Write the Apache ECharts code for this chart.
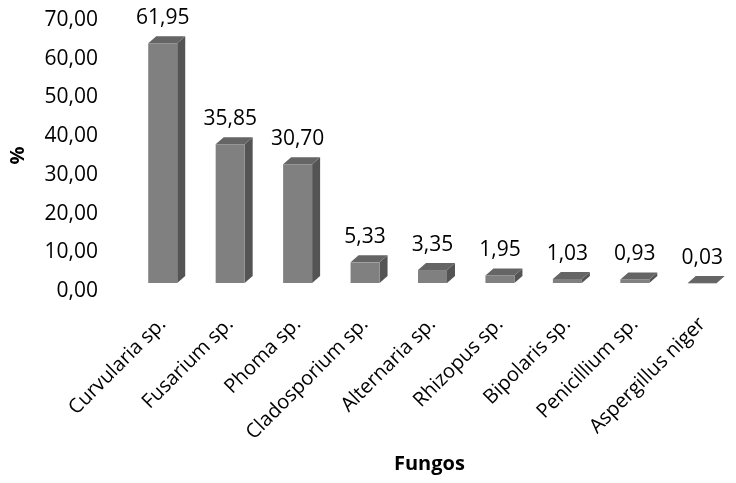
<!DOCTYPE html>
<html>
<head>
<meta charset="utf-8">
<script src="https://cdn.jsdelivr.net/npm/echarts@6/dist/echarts.min.js"></script>
<style>
  html, body { margin: 0; padding: 0; background: #fff; }
  #chart { width: 736px; height: 483px; }
</style>
</head>
<body>
<div id="chart"></div>
<script>
  var fungos = ['Curvularia sp.', 'Fusarium sp.', 'Phoma sp.', 'Cladosporium sp.', 'Alternaria sp.',
    'Rhizopus sp.', 'Bipolaris sp.', 'Penicillium sp.', 'Aspergillus niger']
  var percent = [61.95, 35.85, 30.70, 5.33, 3.35, 1.95, 1.03, 0.93, 0.03]

  var fmt = function (v) { return Number(v).toFixed(2).replace('.', ',') }
  var font = 'Open Sans'

  var myChart = echarts.init(document.getElementById('chart'))

  var option = {
    animation: false,
    grid: { left: 128, top: 20, width: 619, height: 271 },
    xAxis: {
      type: 'category',
      data: fungos,
      axisLine: { show: false },
      axisTick: { show: false },
      axisLabel: {
        rotate: 45,
        margin: 30,
        interval: 0,
        fontSize: 20,
        fontFamily: font,
        color: '#000'
      }
    },
    yAxis: {
      type: 'value',
      min: 0,
      max: 70,
      interval: 10,
      name: '%',
      nameLocation: 'middle',
      nameRotate: 90,
      nameGap: 101,
      nameTextStyle: { fontSize: 20, fontWeight: 'bold', fontFamily: font, color: '#000' },
      axisLine: { show: false },
      axisTick: { show: false },
      splitLine: { show: false },
      axisLabel: {
        margin: 31,
        fontSize: 21,
        fontFamily: font,
        color: '#000',
        formatter: fmt
      }
    },
    graphic: [{
      type: 'text',
      left: 394,
      top: 454,
      style: { text: 'Fungos', fontSize: 20, fontWeight: 'bold', fontFamily: font, fill: '#000' }
    }],
    series: [{
      type: 'custom',
      data: percent.map(function (v, i) { return [i, v] }),
      encode: { x: 0, y: 1 },
      renderItem: function (params, api) {
        var base = api.coord([api.value(0), 0])
        var top = api.coord([api.value(0), api.value(1)])
        var w = 29, dx = 8, dy = 7, lift = 8
        var x0 = base[0] - w / 2
        var yb = base[1] - lift
        var yt = top[1] - lift
        return {
          type: 'group',
          children: [
            { type: 'polygon', shape: { points: [[x0 + w, yt], [x0 + w + dx, yt - dy], [x0 + w + dx, yb - dy], [x0 + w, yb]] },
              style: { fill: '#545454' } },
            { type: 'polygon', shape: { points: [[x0, yt], [x0 + dx, yt - dy], [x0 + w + dx, yt - dy], [x0 + w, yt]] },
              style: { fill: '#656565' } },
            { type: 'rect', shape: { x: x0, y: yt, width: w, height: Math.max(yb - yt, 0.5) },
              style: { fill: '#808080' } },
            { type: 'text', x: base[0], y: yt - 25,
              style: { text: fmt(api.value(1)), fontSize: 21, fontFamily: font, fill: '#000', align: 'center', verticalAlign: 'middle' } }
          ]
        }
      }
    }]
  }

  myChart.setOption(option)
</script>
</body>
</html>
